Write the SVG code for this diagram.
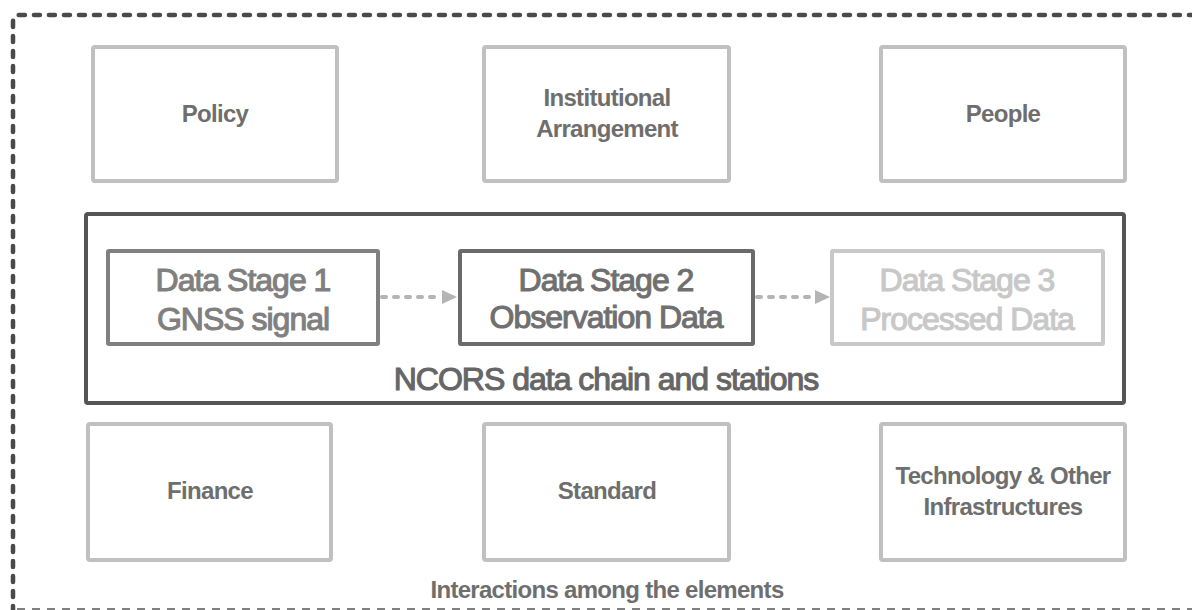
<svg xmlns="http://www.w3.org/2000/svg" width="1192" height="610" viewBox="0 0 1192 610">
<style>
  .lbl{font-family:"Liberation Sans",Arial,sans-serif;font-weight:bold;font-size:24px;fill:#6e6e6e;text-anchor:middle;letter-spacing:-0.7px}
  .big{font-family:"Liberation Sans",Arial,sans-serif;font-size:32px;text-anchor:middle;letter-spacing:-1px;stroke-width:1.1px}
  .elem{fill:#fff;stroke:#c0c0c0;stroke-width:4}
  .conn{fill:none;stroke:#b4b4b4;stroke-width:4;stroke-dasharray:4 8;stroke-linecap:round}
</style>
<rect width="1192" height="610" fill="#fff"/>
<g id="frame">
  <path d="M13,612 L13,22 Q13,15 20,15 L1192,15" fill="none" stroke="#4a4a4a" stroke-width="4.5" stroke-dasharray="6 9" stroke-linecap="round"/>
  <path d="M17,609 L1192,609" fill="none" stroke="#808080" stroke-width="2" stroke-dasharray="8 7"/>
  <text class="lbl" x="607" y="598">Interactions among the elements</text>
</g>
<g id="policy"><rect class="elem" x="93" y="47" width="244" height="134" rx="2"/><text class="lbl" x="215" y="122">Policy</text></g>
<g id="institutional"><rect class="elem" x="484" y="47" width="245" height="134" rx="2"/><text class="lbl" x="607" y="106">Institutional</text><text class="lbl" x="607" y="137">Arrangement</text></g>
<g id="people"><rect class="elem" x="881" y="47" width="244" height="134" rx="2"/><text class="lbl" x="1003" y="122">People</text></g>
<g id="ncors">
  <rect x="86" y="214" width="1038" height="189" rx="2" fill="none" stroke="#555" stroke-width="4"/>
  <text class="big" x="606" y="390" fill="#666" stroke="#666">NCORS data chain and stations</text>
</g>
<g id="stage1"><rect x="108" y="251" width="270" height="93" fill="#fff" stroke="#808080" stroke-width="4" rx="1"/><text class="big" x="243" y="291" fill="#808080" stroke="#808080">Data Stage 1</text><text class="big" x="243" y="330" fill="#808080" stroke="#808080">GNSS signal</text></g>
<g id="stage2"><rect x="460" y="251" width="293" height="93" fill="#fff" stroke="#6a6a6a" stroke-width="4" rx="1"/><text class="big" x="606" y="291" fill="#707070" stroke="#707070">Data Stage 2</text><text class="big" x="606" y="328" fill="#707070" stroke="#707070">Observation Data</text></g>
<g id="stage3"><rect x="832" y="251" width="271" height="93" fill="#fff" stroke="#c8c8c8" stroke-width="4" rx="1"/><text class="big" x="967" y="291" fill="#c8c8c8" stroke="#c8c8c8">Data Stage 3</text><text class="big" x="967" y="330" fill="#c8c8c8" stroke="#c8c8c8">Processed Data</text></g>
<g id="connectors">
  <path class="conn" d="M382,297 L440,297"/>
  <path d="M442,290 L457,297 L442,304 Z" fill="#b4b4b4"/>
  <path class="conn" d="M757,297 L813,297"/>
  <path d="M815,290 L830,297 L815,304 Z" fill="#b4b4b4"/>
</g>
<g id="finance"><rect class="elem" x="88" y="424" width="243" height="136" rx="2"/><text class="lbl" x="210" y="499">Finance</text></g>
<g id="standard"><rect class="elem" x="484" y="424" width="245" height="136" rx="2"/><text class="lbl" x="607" y="499">Standard</text></g>
<g id="technology"><rect class="elem" x="881" y="424" width="244" height="136" rx="2"/><text class="lbl" x="1003" y="484">Technology &amp; Other</text><text class="lbl" x="1003" y="515">Infrastructures</text></g>
</svg>
